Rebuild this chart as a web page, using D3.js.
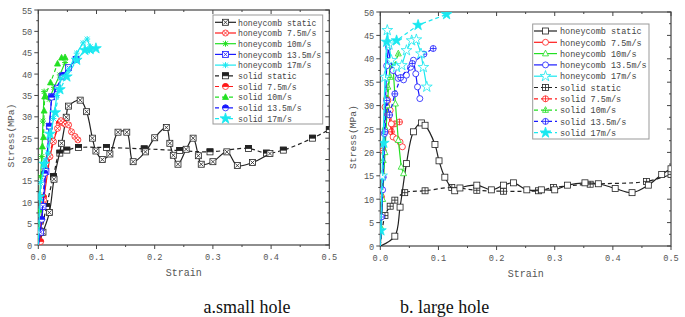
<!DOCTYPE html>
<html>
<head>
<meta charset="utf-8">
<script src="https://cdn.jsdelivr.net/npm/d3@7"></script>
<style>
  body { margin: 0; background: #fff; }
  svg { display: block; }
  text { font-family: "Liberation Mono", "DejaVu Sans Mono", monospace; }
  text.caption { font-family: "Liberation Serif", "DejaVu Serif", serif; }
</style>
</head>
<body>
<svg id="chart" width="685" height="317"></svg>
<script>
// ---- data: small hole (a) ----
const smallHcStatic = [[0,0],[0.008,3],[0.019,7.6],[0.027,15.4],[0.04,23.8],[0.048,29.9],[0.052,32.5],[0.072,33.9],[0.083,31.2],[0.093,25],[0.099,22],[0.11,20],[0.123,21.3],[0.137,26.4],[0.152,26.4],[0.163,19.5],[0.184,21.8],[0.2,25.1],[0.22,27.5],[0.226,23.8],[0.232,21],[0.24,18.9],[0.254,22.4],[0.266,25],[0.275,20.9],[0.28,18.9],[0.3,19.5],[0.324,21.8],[0.342,18.6],[0.368,19.3],[0.398,21.4]];
const smallSolidStatic = [[0,0],[0.005,3],[0.014,9],[0.026,16],[0.037,21.5],[0.049,22.2],[0.069,22.8],[0.117,22.8],[0.182,22.5],[0.243,22.1],[0.295,21.8],[0.361,22.6],[0.392,21.5],[0.421,22.2],[0.471,25],[0.5,27]];
const smallHc75 = [[0,0],[0.003,3],[0.009,10.5],[0.02,20.7],[0.026,24.2],[0.033,27.3],[0.039,29.1],[0.046,28.3],[0.052,28.1],[0.057,26.5],[0.063,25.4],[0.068,24.6]];
const smallSolid75 = [[0,0],[0.004,0.8],[0.009,11.2],[0.019,20.7],[0.025,24.3],[0.036,28.5],[0.041,28.8]];
const smallHc10 = [[0,0],[0.002,8],[0.004,16],[0.006,20.7],[0.008,29],[0.01,35.9],[0.019,34.1],[0.027,36.9],[0.037,39.8],[0.046,42.7]];
const smallSolid10 = [[0,0],[0.003,8.2],[0.007,23],[0.009,25.2],[0.01,31.4],[0.011,34.7],[0.021,38],[0.033,42.4],[0.04,43.8],[0.046,43.9]];
const smallHc135 = [[0,0],[0.004,3],[0.008,9],[0.013,17.2],[0.019,27.8],[0.023,34.7],[0.033,36.7],[0.041,39.5],[0.052,41.5],[0.065,43.4]];
const smallSolid135 = [[0,0],[0.006,6],[0.011,16.8],[0.019,27.8],[0.023,34.6],[0.042,39.7],[0.065,43.4]];
const smallHc17 = [[0,0],[0.004,14.6],[0.017,21.5],[0.026,29.6],[0.032,35],[0.039,39],[0.052,41],[0.066,44.9],[0.077,47.3],[0.084,48.2],[0.089,46.4],[0.088,45.5]];
const smallSolid17 = [[0,0],[0.002,11.3],[0.01,19],[0.02,26],[0.029,31],[0.037,36.4],[0.049,39.4],[0.066,43.3],[0.08,45.6],[0.089,45.8],[0.099,46]];

// ---- data: large hole (b) ----
const largeHcStatic = [[0,0],[0.025,2.1],[0.034,8.3],[0.045,17.6],[0.057,24.4],[0.071,26.3],[0.077,25.8],[0.094,21.7],[0.101,18.2],[0.111,14.7],[0.128,11.8],[0.137,12.4],[0.166,13],[0.191,12],[0.212,13],[0.229,13.5],[0.252,12],[0.277,12],[0.3,12],[0.322,13],[0.352,13.5],[0.375,13.3],[0.404,12.3],[0.433,11.4],[0.461,13],[0.484,15.3],[0.5,16.5]];
const largeSolidStatic = [[0,0],[0.008,6.5],[0.017,8.5],[0.025,9.8],[0.042,11.4],[0.077,11.8],[0.123,12.5],[0.166,11.9],[0.212,11.7],[0.272,11.8],[0.298,12.5],[0.361,13.2],[0.458,13.8],[0.5,15.3]];
const largeHc75 = [[0,0],[0.004,15],[0.008,29.7],[0.013,31.1],[0.017,29],[0.019,26.1],[0.022,23.3],[0.028,22.9],[0.034,22.2],[0.038,21.2]];
const largeSolid75 = [[0,0],[0.002,10.5],[0.005,20.4],[0.011,31.5],[0.015,28],[0.019,24.4],[0.025,26.1],[0.033,26.5]];
const largeHc10 = [[0,0],[0.004,10],[0.008,20],[0.012,30],[0.017,39],[0.022,38.2],[0.026,30.4],[0.031,22.6],[0.036,16.9],[0.04,15.5]];
const largeSolid10 = [[0,0],[0.001,4],[0.005,18.3],[0.008,25.4],[0.013,34],[0.017,36.1],[0.024,38.5],[0.031,41.1]];
const largeHc135 = [[0,0],[0.004,12],[0.007,24],[0.011,38.5],[0.014,42.5],[0.017,39.7],[0.022,37.5],[0.031,35.8],[0.04,35.5],[0.045,36.5],[0.052,38.2],[0.057,39.7],[0.061,36.8],[0.064,34],[0.068,31.5]];
const largeSolid135 = [[0,0],[0.002,6.2],[0.005,14.7],[0.008,24.4],[0.011,31.1],[0.016,28],[0.025,32.5],[0.035,36],[0.055,39],[0.075,41],[0.091,42.2]];
const largeHc17 = [[0,0],[0.003,15],[0.008,36.1],[0.012,46.1],[0.015,43],[0.019,39.7],[0.028,38.2],[0.037,38.6],[0.045,41.8],[0.054,43.9],[0.062,44.1],[0.07,41.1],[0.074,38.2],[0.08,34]];
const largeSolid17 = [[0,0],[0.001,3.3],[0.006,22],[0.011,43.6],[0.028,43.9],[0.065,47.2],[0.114,49.5]];

const seriesNames = ["honeycomb static", "honeycomb 7.5m/s", "honeycomb 10m/s", "honeycomb 13.5m/s", "honeycomb 17m/s",
                     "solid static", "solid 7.5m/s", "solid 10m/s", "solid 13.5m/s", "solid 17m/s"];
const seriesColors = ["#222", "#ff1a1a", "#22e022", "#1a1aff", "#1ae8f0", "#222", "#ff1a1a", "#22e022", "#1a1aff", "#1ae8f0"];
const xTicks = [0, 0.1, 0.2, 0.3, 0.4, 0.5];

const svg = d3.select("#chart");

// fixed-pitch text: mono font advance is 0.6em, so size = pitch / 0.6
const monoSize = pitch => (pitch / 0.6).toFixed(2);

// draw a single marker shape centred on (cx, cy)
function marker(g, type, color, cx, cy, r) {
  const m = g.append("g").attr("transform", `translate(${cx},${cy})`)
    .attr("stroke", color).attr("stroke-width", 0.8).attr("fill", "none");
  const sq = () => m.append("rect").attr("x", -r).attr("y", -r).attr("width", 2 * r).attr("height", 2 * r).attr("fill", "#fff");
  const circ = () => m.append("circle").attr("r", r).attr("fill", "#fff");
  const tri = () => m.append("path").attr("d", `M0,${-r * 1.15}L${r},${r * 0.75}L${-r},${r * 0.75}Z`).attr("fill", "#fff");
  const cross = () => m.append("path").attr("d", `M${-r * 0.7},${-r * 0.7}L${r * 0.7},${r * 0.7}M${r * 0.7},${-r * 0.7}L${-r * 0.7},${r * 0.7}`);
  const plus = () => m.append("path").attr("d", `M0,${-r}V${r}M${-r},0H${r}`);
  const starPath = d3.symbol(d3.symbolStar, r * r * 4)();
  switch (type) {
    case "sqx": sq(); cross(); break;
    case "cx": circ(); cross(); break;
    case "ast": m.append("path").attr("d", `M0,${-r}V${r}M${-r},0H${r}M${-r * 0.8},${-r * 0.8}L${r * 0.8},${r * 0.8}M${r * 0.8},${-r * 0.8}L${-r * 0.8},${r * 0.8}`).attr("stroke-width", 1); break;
    case "sqhalf": sq(); m.append("rect").attr("x", -r).attr("y", -r).attr("width", 2 * r).attr("height", r).attr("fill", color); break;
    case "chalf": circ(); m.append("path").attr("d", `M${-r},0A${r},${r} 0 0 1 ${r},0Z`).attr("fill", color); break;
    case "trif": tri().attr("fill", color); break;
    case "starf": m.append("path").attr("d", starPath).attr("fill", color); break;
    case "sq": sq(); break;
    case "c": circ(); break;
    case "trio": tri(); break;
    case "staro": m.append("path").attr("d", starPath).attr("fill", "#fff"); break;
    case "sqp": sq(); plus(); break;
    case "cp": circ(); plus(); break;
    case "trip": tri(); m.append("path").attr("d", `M0,${-r * 0.6}V${r * 0.75}M${-r * 0.55},${r * 0.15}H${r * 0.55}`); break;
  }
}

function drawPanel(p) {
  const x = d3.scaleLinear().domain([0, 0.5]).range([p.left, p.right]);
  const y = d3.scaleLinear().domain([0, p.yMax]).range([p.bottom, p.top]);
  const g = svg.append("g");
  const axisColor = "#555";
  const yTicks = d3.range(0, p.yMax + 0.1, 5);

  // frame
  g.append("rect").attr("x", p.left).attr("y", p.top)
    .attr("width", p.right - p.left).attr("height", p.bottom - p.top)
    .attr("fill", "none").attr("stroke", "#444").attr("stroke-width", 1.2);

  // ticks: outward left/bottom, inward top/right
  const xMinor = d3.range(0.05, 0.5, 0.1);
  const yMinor = d3.range(2.5, p.yMax, 5);
  const tk = g.append("g").attr("stroke", "#444").attr("stroke-width", 1);
  xTicks.forEach(v => {
    tk.append("line").attr("x1", x(v)).attr("x2", x(v)).attr("y1", p.bottom).attr("y2", p.bottom + 4);
    tk.append("line").attr("x1", x(v)).attr("x2", x(v)).attr("y1", p.top).attr("y2", p.top + 4);
  });
  xMinor.forEach(v => {
    tk.append("line").attr("x1", x(v)).attr("x2", x(v)).attr("y1", p.bottom).attr("y2", p.bottom + 2);
    tk.append("line").attr("x1", x(v)).attr("x2", x(v)).attr("y1", p.top).attr("y2", p.top + 2);
  });
  yTicks.forEach(v => {
    tk.append("line").attr("y1", y(v)).attr("y2", y(v)).attr("x1", p.left - 4).attr("x2", p.left);
    tk.append("line").attr("y1", y(v)).attr("y2", y(v)).attr("x1", p.right - 4).attr("x2", p.right);
  });
  yMinor.forEach(v => {
    tk.append("line").attr("y1", y(v)).attr("y2", y(v)).attr("x1", p.left - 2).attr("x2", p.left);
    tk.append("line").attr("y1", y(v)).attr("y2", y(v)).attr("x1", p.right - 2).attr("x2", p.right);
  });

  // tick labels
  g.append("g").selectAll("text").data(xTicks).join("text")
    .attr("x", d => x(d)).attr("y", p.bottom + 15)
    .attr("text-anchor", "middle").attr("font-size", monoSize(5.2))
    .attr("fill", axisColor).text(d => d.toFixed(1));
  g.append("g").selectAll("text").data(yTicks).join("text")
    .attr("x", p.left - 6).attr("y", d => y(d) + 3.5)
    .attr("text-anchor", "end").attr("font-size", monoSize(5.2))
    .attr("fill", axisColor).text(d => d);

  // axis titles
  g.append("text").attr("x", (p.left + p.right) / 2).attr("y", p.bottom + 31)
    .attr("text-anchor", "middle").attr("font-size", monoSize(6))
    .attr("fill", axisColor).text("Strain");
  g.append("text").attr("transform", `translate(${p.left - 24},${(p.top + p.bottom) / 2 + 8}) rotate(-90)`)
    .attr("text-anchor", "middle").attr("font-size", monoSize(5.8))
    .attr("fill", axisColor).text("Stress(MPa)");

  // series
  const clipId = "clip" + p.id;
  svg.append("clipPath").attr("id", clipId).append("rect")
    .attr("x", p.left).attr("y", p.top).attr("width", p.right - p.left).attr("height", p.bottom - p.top);
  const plot = g.append("g").attr("clip-path", `url(#${clipId})`);
  const order = [5, 0, 6, 1, 2, 7, 3, 8, 4, 9];
  order.forEach(i => {
    const data = p.series[i];
    const dashed = i >= 5;
    const line = d3.line().x(d => x(d[0])).y(d => y(d[1]))
      .curve(i === 0 || i === 5 ? d3.curveCatmullRom.alpha(0.5) : d3.curveLinear);
    plot.append("path").datum(data).attr("d", line)
      .attr("fill", "none").attr("stroke", seriesColors[i]).attr("stroke-width", 1.2)
      .attr("stroke-dasharray", dashed ? "4,3" : null);
    data.slice(1).forEach(d => marker(plot, p.markers[i], seriesColors[i], x(d[0]), y(d[1]), 3));
  });

  // legend
  const L = p.legend;
  g.append("rect").attr("x", L.x0).attr("y", L.y0).attr("width", L.x1 - L.x0).attr("height", L.y1 - L.y0)
    .attr("fill", "#fff").attr("stroke", "#999").attr("stroke-width", 1);
  seriesNames.forEach((name, i) => {
    const ry = L.row0 + i * L.step;
    g.append("line").attr("x1", L.lx0).attr("x2", L.lx1).attr("y1", ry).attr("y2", ry)
      .attr("stroke", seriesColors[i]).attr("stroke-width", 1.2)
      .attr("stroke-dasharray", i >= 5 ? "4,3" : null);
    marker(g, p.markers[i], seriesColors[i], (L.lx0 + L.lx1) / 2, ry, 3);
    g.append("text").attr("x", L.tx).attr("y", ry + 3.2).attr("font-size", monoSize(L.pitch))
      .attr("fill", "#444").text(name);
  });

  // caption
  svg.append("text").attr("class", "caption").attr("x", p.capX).attr("y", 313).attr("font-size", 18)
    .attr("text-anchor", p.capAnchor).attr("fill", "#111").text(p.caption);
}

drawPanel({
  id: "a", left: 38.3, right: 329.3, top: 10, bottom: 245, yMax: 55,
  series: [smallHcStatic, smallHc75, smallHc10, smallHc135, smallHc17,
           smallSolidStatic, smallSolid75, smallSolid10, smallSolid135, smallSolid17],
  markers: ["sqx", "cx", "ast", "sqx", "ast", "sqhalf", "chalf", "trif", "chalf", "starf"],
  legend: { x0: 213, x1: 322.7, y0: 15, y1: 124, row0: 22.3, step: 10.7, lx0: 215, lx1: 236, tx: 238, pitch: 4.9 },
  caption: "a.small hole", capX: 247, capAnchor: "middle"
});

drawPanel({
  id: "b", left: 380.3, right: 671, top: 12, bottom: 246, yMax: 50,
  series: [largeHcStatic, largeHc75, largeHc10, largeHc135, largeHc17,
           largeSolidStatic, largeSolid75, largeSolid10, largeSolid135, largeSolid17],
  markers: ["sq", "c", "trio", "c", "staro", "sqp", "cp", "trip", "cp", "starf"],
  legend: { x0: 532.7, x1: 649, y0: 24, y1: 139, row0: 31, step: 11.3, lx0: 534, lx1: 557, tx: 560, pitch: 5.1 },
  caption: "b. large hole", capX: 400, capAnchor: "start"
});
</script>
</body>
</html>
